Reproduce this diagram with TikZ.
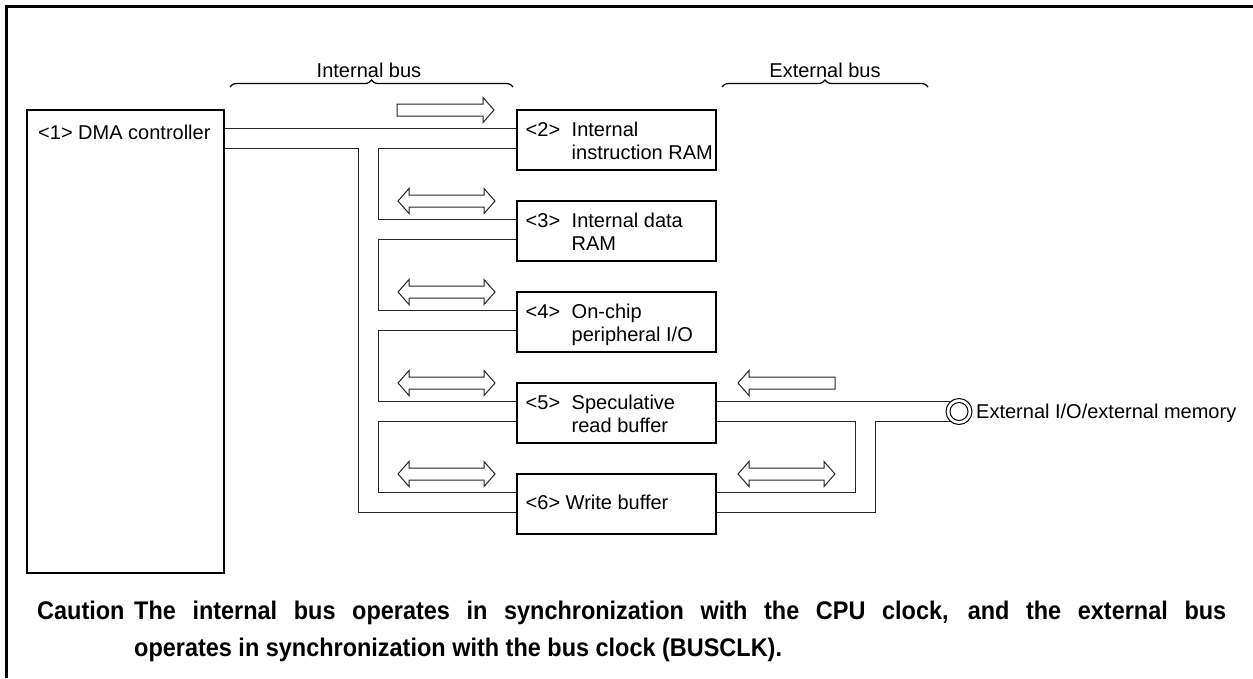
\documentclass[tikz,border=0pt]{standalone}
\usepackage{fontspec}
\setmainfont{Liberation Sans}
\newfontfamily\caufont[FakeStretch=0.92]{Liberation Sans}
\usetikzlibrary{calc,decorations.pathreplacing}
\tikzset{
  rarrow/.pic={\draw[hollow] (0,-6) -- (86,-6) -- (86,-12.5) -- (97,0) -- (86,12.5) -- (86,6) -- (0,6) -- cycle;},
  larrow/.pic={\draw[hollow] (0,0) -- (11,-12.5) -- (11,-6) -- (97,-6) -- (97,6) -- (11,6) -- (11,12.5) -- cycle;},
  darrow/.pic={\draw[hollow] (0,0) -- (11,-12.5) -- (11,-6) -- (86,-6) -- (86,-12.5) -- (97,0) -- (86,12.5) -- (86,6) -- (11,6) -- (11,12.5) -- cycle;}
}
\begin{document}
\begin{tikzpicture}[x=1pt,y=-1pt,
  box/.style={draw, line width=1.9pt, minimum width=199pt, minimum height=60pt, anchor=north west, inner sep=0pt},
  lbl/.style={font=\fontsize{20}{23}\selectfont, inner sep=0pt, anchor=base west},
  cau/.style={font=\caufont\fontsize{25.5}{28}\selectfont\bfseries, inner sep=0pt, anchor=base west},
  bus/.style={line width=1pt, black!85},
  hollow/.style={line width=1pt, black!85, fill=white, line join=miter},
  brc/.style={decorate, decoration={brace, amplitude=7pt}, line width=1.2pt},
]
\useasboundingbox (0,0) rectangle (1253,678);
\draw[line width=2.5pt] (6.5,678) -- (6.5,6.5) -- (1253,6.5);

% bus labels and braces
\node[lbl, anchor=base] (ib) at (369,77) {Internal bus};
\node[lbl, anchor=base] (eb) at (825,77) {External bus};
\draw[brc] (230,87) -- (513,87);
\draw[brc] (722,87) -- (928,87);

% DMA controller
\node[box, minimum width=197pt, minimum height=463pt] (dma) at (26,109) {};
\node[lbl] (l1) at (38,139) {<1> DMA controller};

% boxes
\node[box] (b2) at (516,109) {};
\node[box] (b3) at (516,200) {};
\node[box] (b4) at (516,291) {};
\node[box] (b5) at (516,382) {};
\node[box] (b6) at (516,473) {};

\node[lbl] (n2) at (525.5,136.5) {<2>};
\node[lbl] (t2a) at (571.5,136.5) {Internal};
\node[lbl] (t2b) at (571.5,159.5) {instruction RAM};
\node[lbl] (n3) at (525.5,227.5) {<3>};
\node[lbl] (t3a) at (571.5,227.5) {Internal data};
\node[lbl] (t3b) at (571.5,250.5) {RAM};
\node[lbl] (n4) at (525.5,318.5) {<4>};
\node[lbl] (t4a) at (571.5,318.5) {On-chip};
\node[lbl] (t4b) at (571.5,341.5) {peripheral I/O};
\node[lbl] (n5) at (525.5,409.5) {<5>};
\node[lbl] (t5a) at (571.5,409.5) {Speculative};
\node[lbl] (t5b) at (571.5,432.5) {read buffer};
\node[lbl] (t6) at (525.5,509) {<6> Write buffer};

% external
\node[circle, draw, line width=1pt, minimum size=26pt, inner sep=0pt] (ext) at (959,411.5) {};
\node[circle, draw, line width=1pt, minimum size=18pt, inner sep=0pt] (exti) at (ext.center) {};
\node[lbl] (extt) at (976,418.7) {External I/O/external memory};

% stub coordinates
\coordinate (dma-u) at ($(dma.north east)+(0,19.5)$);
\coordinate (dma-l) at ($(dma.north east)+(0,39.5)$);
\foreach \i in {2,...,6} {
  \coordinate (b\i-lu) at ($(b\i.north west)+(0,19.5)$);
  \coordinate (b\i-ll) at ($(b\i.north west)+(0,39.5)$);
  \coordinate (b\i-ru) at ($(b\i.north east)+(0,19.5)$);
  \coordinate (b\i-rl) at ($(b\i.north east)+(0,39.5)$);
}
\coordinate (xo) at (358,0);
\coordinate (xi) at (378,0);
\coordinate (xr1) at (855,0);
\coordinate (xr2) at (875,0);

% internal bus
\draw[bus] (dma-u) -- (b2-lu);
\draw[bus] (dma-l) -- (dma-l -| xo) -- (b6-ll -| xo) -- (b6-ll);
\foreach \a/\b in {2/3,3/4,4/5,5/6}
  \draw[bus] (b\a-ll) -- (b\a-ll -| xi) -- (b\b-lu -| xi) -- (b\b-lu);

% external bus
\draw[bus] (b5-ru) -- (b5-ru -| ext.130);
\draw[bus] (b5-rl) -- (b5-rl -| xr1) -- (b6-ru -| xr1) -- (b6-ru);
\draw[bus] (b6-rl) -- (b6-rl -| xr2) -- (ext.230 -| xr2) -- (ext.230);

% transfer arrows
\pic at (397,110) {rarrow};
\pic at (398,201) {darrow};
\pic at (398,292) {darrow};
\pic at (398,383) {darrow};
\pic at (398,474) {darrow};
\pic at (738,383) {larrow};
\pic at (738,474) {darrow};

% caution
\node[cau] (c0) at (37,619) {Caution};
\node[cau] (c1) at (134,619) {\makebox[1092pt][s]{The internal bus operates in synchronization with the CPU clock, and the external bus}};
\node[cau] (c2) at (134,656) {operates in synchronization with the bus clock (BUSCLK).};
\end{tikzpicture}
\end{document}
